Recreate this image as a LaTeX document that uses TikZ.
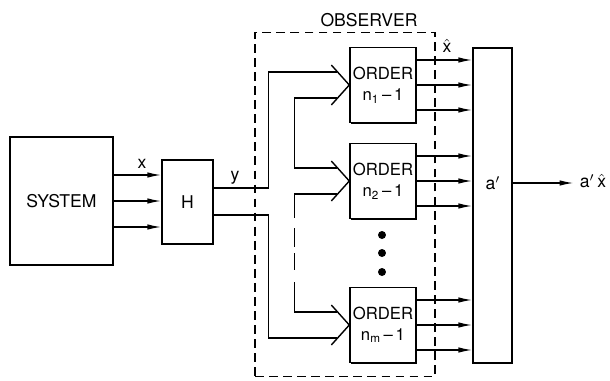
\documentclass[tikz,border=0pt]{standalone}
\usepackage{fontspec}
\setmainfont{TeX Gyre Heros}
\setsansfont{TeX Gyre Heros}
\usepackage{amsmath}
\usepackage{tikz}
\usetikzlibrary{arrows.meta, positioning, calc, shadows}
\newcommand{\xhat}{$\hat{\mathsf{x}}$}
\tikzset{
  block/.style={draw, thick, fill=white, inner sep=1pt, align=center,
                drop shadow={shadow xshift=0.7pt, shadow yshift=-0.7pt,
                             fill=black, opacity=1}},
  orderbox/.style={block, minimum width=1.32cm, minimum height=1.5cm,
                   font=\fontsize{9.5}{12}\selectfont},
  arrow/.style={-{Latex[length=2.8mm, width=1.1mm]}, thick},
  wire/.style={thick},
  observer/.style={draw, semithick, dash pattern=on 5pt off 3pt},
  dot/.style={circle, fill, inner sep=0pt, minimum size=0.16cm},
}

\begin{document}
\begin{tikzpicture}[x=0.02cm, y=-0.02cm, font=\normalsize]
  \useasboundingbox (0,0) rectangle (610,380);

  % Observer frame
  \node[observer, minimum width=3.6cm, minimum height=6.9cm] (obs) at (345,204.5) {};
  \node (obslab) at (369,20) {OBSERVER};

  % Blocks
  \node[block, minimum width=2.06cm, minimum height=2.56cm] (sys) at (61.5,201) {SYSTEM};
  \node[block, minimum width=1.02cm, minimum height=1.68cm] (H) at (187.5,202) {H};
  \node[orderbox] (o1) at (383,85)  {ORDER\\n\textsubscript{1}\,--\,1};
  \node[orderbox] (o2) at (383,181) {ORDER\\n\textsubscript{2}\,--\,1};
  \node[orderbox] (om) at (383,325) {ORDER\\n\textsubscript{m}\,--\,1};
  \node[block, minimum width=0.78cm, minimum height=6.3cm] (ap) at (492.5,205.5) {};

  % Dots
  \foreach \yy [count=\i] in {235,253,272}
    \node[dot] (dot\i) at (382,\yy) {};

  % Labels
  \node (xlab) at (142,164) {x};
  \node (ylab) at (235,178) {y};
  \node (xhatlab) at (447,46) {\xhat};
  \node (alab) at (493,183) {a$'$};
  \node (outlab) at (593,181) {a$'$\,\xhat};

  % System to H
  \foreach \d in {-26,0,26}
    \draw[arrow] ($(sys.east)+(0,\d)$) coordinate (s) -- (s -| H.west);

  % Input chevrons
  \foreach \b in {o1,o2,om} {
    \draw[wire] ($(\b.west)+(-18,-20)$) -- (\b.west) -- ($(\b.west)+(-18,20)$);
    \coordinate (\b-in1) at ($(\b.west)+(-12,-13)$);
    \coordinate (\b-in2) at ($(\b.west)+(-12,13)$);
  }

  % y to the observers
  \draw[wire] ($(H.east)+(0,-14)$) -- ++(55,0) |- (o1-in1);
  \draw[wire] ($(H.east)+(0,13)$) -- ++(55,0) |- (om-in2);
  \draw[wire] (o1-in2) -- ++(-43,0) |- (o2-in1);
  \draw[wire] (o2-in2) -- ++(-43,0) -- ++(0,24) coordinate (gap1);
  \draw[wire] ($(gap1)+(0,10)$) -- ++(0,19);
  \draw[wire] ($(gap1)+(0,35)$) -- ++(0,17);
  \draw[wire] ($(gap1)+(0,64)$) |- (om-in1);

  % Estimates to a'
  \foreach \b in {o1,o2,om}
    \foreach \d in {-25,0,25}
      \draw[arrow] ($(\b.east)+(0,\d)$) coordinate (s) -- (s -| ap.west);

  % Output
  \draw[arrow] (ap.east |- alab) -- (outlab.west |- alab);

\end{tikzpicture}
\end{document}
